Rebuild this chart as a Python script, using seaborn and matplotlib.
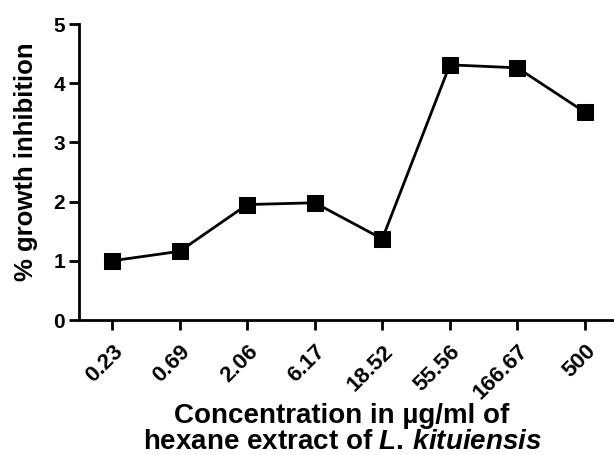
import matplotlib
matplotlib.use("Agg")
import matplotlib.pyplot as plt
import matplotlib.transforms as mtransforms
import seaborn as sns
import pandas as pd

concentrations = ["0.23", "0.69", "2.06", "6.17", "18.52", "55.56", "166.67", "500"]
inhibition = [1.00, 1.16, 1.95, 1.98, 1.37, 4.31, 4.26, 3.51]
y_ticks = [0, 1, 2, 3, 4, 5]

sns.set_theme(style="ticks")
plt.rcParams["font.family"] = ["Liberation Sans", "DejaVu Sans"]
plt.rcParams["font.weight"] = "bold"
plt.rcParams["text.color"] = "black"
plt.rcParams["axes.labelcolor"] = "black"
plt.rcParams["xtick.color"] = "black"
plt.rcParams["ytick.color"] = "black"
plt.rcParams["mathtext.fontset"] = "custom"
plt.rcParams["mathtext.rm"] = "Liberation Sans:bold"
plt.rcParams["mathtext.it"] = "Liberation Sans:italic:bold"
plt.rcParams["mathtext.bf"] = "Liberation Sans:bold"

df = pd.DataFrame({"pos": list(range(len(concentrations))), "val": inhibition})

W, H = 614, 455
fig = plt.figure(figsize=(W / 100, H / 100), dpi=100)
ax = fig.add_axes([79 / W, (H - 320) / H, (W - 79) / W, (320 - 24) / H])

sns.lineplot(data=df, x="pos", y="val", ax=ax, color="black", linewidth=2.0,
             marker="s", markersize=11, markeredgecolor="black", markerfacecolor="black")

ax.set_xlim(-0.49, len(concentrations) - 1 + 0.43)
ax.set_ylim(0, 5)
ax.set_yticks(y_ticks)
ax.set_yticklabels([str(t) for t in y_ticks], fontsize=15, fontweight="bold")
ax.set_xticks(range(len(concentrations)))
ax.set_xticklabels(concentrations, fontsize=16, fontweight="bold", rotation=45,
                   ha="right", va="top", rotation_mode="anchor")
offset = mtransforms.ScaledTranslation(6 / 100, 0, fig.dpi_scale_trans)
for lbl in ax.get_xticklabels():
    lbl.set_transform(lbl.get_transform() + offset)

for s in ["top", "right"]:
    ax.spines[s].set_visible(False)
for s in ["left", "bottom"]:
    ax.spines[s].set_linewidth(2.0)
    ax.spines[s].set_color("black")
ax.tick_params(axis="both", direction="out", width=2.0, length=7, color="black")
ax.tick_params(axis="x", pad=8)
ax.tick_params(axis="y", pad=3)

ax.set_ylabel("% growth inhibition", fontsize=18.5, fontweight="bold")
ax.yaxis.set_label_coords((38 - 79) / (W - 79), (320 - 162) / 296)

ax.set_xlabel("Concentration in µg/ml of\nhexane extract of $\\mathit{L.\\,kituiensis}$",
              fontsize=20, fontweight="bold", linespacing=1.0)
ax.xaxis.set_label_coords((342 - 79) / (W - 79), (320 - 403) / 296)
ax.xaxis.label.set_va("top")

fig.savefig("out.png", dpi=100, facecolor="white")
